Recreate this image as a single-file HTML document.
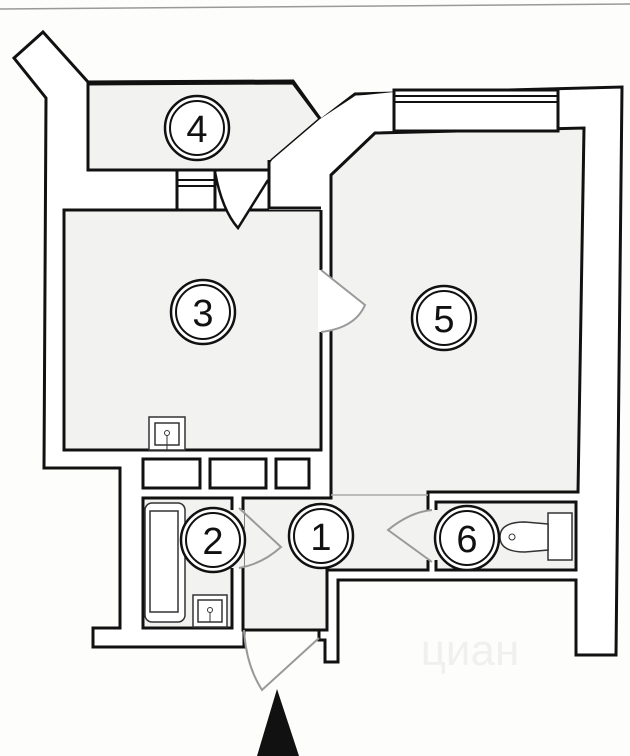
<!DOCTYPE html>
<html><head><meta charset="utf-8"><style>
html,body{margin:0;padding:0;background:#fdfdfc;}
svg{display:block;}
text{font-family:"Liberation Sans",sans-serif;}
</style></head><body>
<svg width="630" height="756" viewBox="0 0 630 756" xmlns="http://www.w3.org/2000/svg">
<rect width="630" height="756" fill="#fdfdfc"/>
<line x1="0" y1="9" x2="630" y2="4" stroke="#999" stroke-width="1.5"/>
<!-- outer wall -->
<polygon points="14,58 43,32 88,82 293,81 321,120 355,94 622,87 616,655 576,655 576,580 338,580 338,662 325,662 325,640 319,640 319,630 244,630 244,647 93,647 93,628 120,628 120,468 44,468 46,98" fill="#fff" stroke="#111" stroke-width="3" stroke-linejoin="miter"/>
<!-- room 4 -->
<polygon points="88,84 293,83 320,119 272,160 270,170 215,170 88,170" fill="#f2f2f0" stroke="#111" stroke-width="3"/>
<!-- room 3 -->
<polygon points="64,210 321,210 321,450 64,450" fill="#f2f2f0" stroke="#111" stroke-width="3"/>
<!-- wall chunk between 4/3 door and room5 -->
<polygon points="269,165 272,160 320,119 355,96 394,92 394,131 375,133 331,175 331,210 269,210" fill="#fff" stroke="none"/>
<polyline points="269,160 269,208 321,208" fill="none" stroke="#111" stroke-width="3"/>
<!-- room 5 + corridor -->
<polygon points="331,175 375,133 584,128 578,492 428,492 428,570 327,570 327,630 243,630 243,498 331,498" fill="#f2f2f0" stroke="#111" stroke-width="3"/>
<line x1="331" y1="495" x2="428" y2="495" stroke="#aaa" stroke-width="1.5"/>
<!-- window room4/3 -->
<rect x="177" y="170" width="38" height="40" fill="#fff" stroke="#111" stroke-width="3"/>
<line x1="177" y1="180" x2="215" y2="180" stroke="#111" stroke-width="2"/>
<line x1="177" y1="186" x2="215" y2="186" stroke="#111" stroke-width="2"/>
<!-- window room5 -->
<rect x="394" y="90" width="164" height="41" fill="#fff" stroke="#111" stroke-width="3"/>
<line x1="394" y1="96" x2="558" y2="96" stroke="#111" stroke-width="2"/>
<line x1="394" y1="102" x2="558" y2="102" stroke="#111" stroke-width="2"/>
<!-- door 4 -->
<path d="M215,172 Q222,210 238,228 L268,180" fill="#fff" stroke="#111" stroke-width="2.5"/>
<!-- door 3/5 -->
<rect x="318" y="270" width="8" height="62" fill="#fff"/>
<path d="M321,270 L365,305 Q355,328 321,332" fill="#fff" stroke="#999" stroke-width="2"/>
<!-- storage boxes -->
<rect x="143" y="459" width="57" height="29" fill="#fff" stroke="#111" stroke-width="3"/>
<rect x="210" y="459" width="56" height="29" fill="#fff" stroke="#111" stroke-width="3"/>
<rect x="276" y="459" width="33" height="29" fill="#fff" stroke="#111" stroke-width="3"/>
<!-- bathroom -->
<rect x="143" y="498" width="89" height="130" fill="#f2f2f0" stroke="#111" stroke-width="3"/>
<rect x="145" y="503" width="40" height="119" rx="7" fill="#fff" stroke="#333" stroke-width="1.5"/>
<rect x="150" y="511" width="28" height="101" fill="#fff" stroke="#333" stroke-width="1.5"/>
<rect x="193" y="595" width="34" height="32" fill="#fff" stroke="#333" stroke-width="1.5"/>
<rect x="198" y="600" width="24" height="22" fill="#fff" stroke="#333" stroke-width="1.5"/>
<circle cx="210" cy="610" r="2.5" fill="none" stroke="#333"/>
<line x1="210" y1="612" x2="210" y2="622" stroke="#333"/>
<!-- door 2 -->
<rect x="230" y="510" width="14" height="58" fill="#f2f2f0"/>
<path d="M239,508 L281,547 Q262,564 239,568" fill="none" stroke="#999" stroke-width="2"/>
<!-- room3 sink -->
<rect x="149" y="417" width="36" height="33" fill="#fff" stroke="#333" stroke-width="1.5"/>
<rect x="155" y="423" width="24" height="22" fill="#fff" stroke="#333" stroke-width="1.5"/>
<circle cx="167" cy="433" r="2.5" fill="none" stroke="#333"/>
<line x1="167" y1="435" x2="167" y2="450" stroke="#333"/>
<!-- WC -->
<rect x="436" y="502" width="140" height="68" fill="#f2f2f0" stroke="#111" stroke-width="3"/>
<rect x="426" y="510" width="14" height="50" fill="#f2f2f0"/>
<path d="M432,562 L388,530 Q410,512 432,510" fill="none" stroke="#999" stroke-width="2"/>
<rect x="548" y="513" width="24" height="47" fill="#fff" stroke="#333" stroke-width="1.5"/>
<path d="M548,524 L525,522 Q500,522 500,537 Q500,552 525,552 L548,550 Z" fill="#fff" stroke="#333" stroke-width="1.5"/>
<circle cx="512" cy="537" r="3" fill="none" stroke="#333"/>
<!-- entrance door -->
<path d="M319,638 L262,690 Q246,665 244,630" fill="none" stroke="#999" stroke-width="2"/>
<!-- circles -->
<g fill="#fff" stroke="#111" stroke-width="2.5">
<circle cx="197" cy="128" r="32"/><circle cx="203" cy="312" r="32"/><circle cx="444" cy="318" r="32"/>
<circle cx="213" cy="540" r="32"/><circle cx="321" cy="536" r="32"/><circle cx="467" cy="538" r="32"/>
</g>
<g fill="none" stroke="#111" stroke-width="2">
<circle cx="197" cy="128" r="27"/><circle cx="203" cy="312" r="27"/><circle cx="444" cy="318" r="27"/>
<circle cx="213" cy="540" r="27"/><circle cx="321" cy="536" r="27"/><circle cx="467" cy="538" r="27"/>
</g>
<g font-size="38" text-anchor="middle" fill="#111">
<text x="197" y="142">4</text><text x="203" y="326">3</text><text x="444" y="332">5</text>
<text x="213" y="554">2</text><text x="321" y="550">1</text><text x="467" y="552">6</text>
</g>
<text x="470" y="665" font-size="44" fill="#f0f0f0" text-anchor="middle">циан</text>
<polygon points="277,689 257,756 299,756" fill="#111"/>
</svg>
</body></html>
